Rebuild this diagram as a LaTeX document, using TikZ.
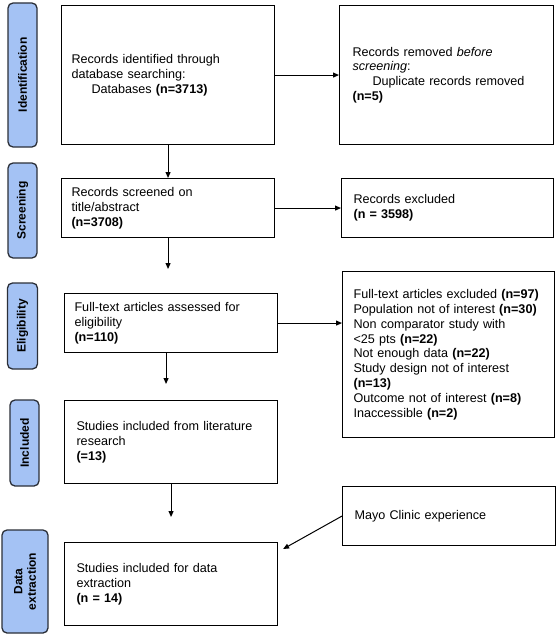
\documentclass[tikz,border=0pt]{standalone}
\usepackage{fontspec}
\setmainfont{Liberation Sans}
\usetikzlibrary{arrows.meta}
\definecolor{stagefill}{HTML}{A4C2F4}
\definecolor{stageline}{HTML}{2B2F38}

\begin{document}
\begin{tikzpicture}[x = 1pt, y = -1pt, line width = 1pt,
                        >={Triangle[length = 6pt, width = 5pt]},
                        box/.style = {draw, line width = 1.1pt, anchor = north west, align = left,
                                      inner xsep = 10pt, inner ysep = 0pt,
                                      font = \fontsize{12.6}{14.8}\selectfont},
                        stage/.style = {draw = stageline, line width = 1.3pt, rounded corners = 5pt,
                                        fill = stagefill, rotate = 90, align = center, inner sep = 0pt,
                                        font = \fontsize{12}{13.5}\selectfont\bfseries}]
    \useasboundingbox (0, 0) rectangle (557, 634);
    % stages on the left
    \node [stage, minimum width = 144pt, minimum height = 29pt] (sIdent) at (22.5, 75) {Identification};
    \node [stage, minimum width = 95pt, minimum height = 29pt] (sScreen) at (22.5, 210.5) {Screening};
    \node [stage, minimum width = 86pt, minimum height = 30pt] (sElig) at (22.5, 326) {Eligibility};
    \node [stage, minimum width = 86pt, minimum height = 29pt] (sIncl) at (24.5, 443) {Included};
    \node [stage, minimum width = 103pt, minimum height = 46pt] (sData) at (25, 581.5) {Data\\extraction};
    % main column
    \node [box, text width = 193pt, minimum height = 139pt] (ident) at (61, 5)
        {Records identified through\\database searching:\\\hspace*{20pt}Databases \textbf{(n=3713)}};
    \node [box, text width = 193pt, minimum height = 59pt] (screen) at (61, 178)
        {Records screened on\\title/abstract\\\textbf{(n=3708)}};
    \node [box, text width = 193pt, minimum height = 59pt] (elig) at (64, 293)
        {Full-text articles assessed for\\eligibility\\\textbf{(n=110)}};
    \node [box, inner xsep = 12pt, text width = 189pt, minimum height = 83pt] (incl) at (64, 400)
        {Studies included from literature\\research\\\textbf{(=13)}};
    \node [box, inner xsep = 12pt, text width = 189pt, minimum height = 83pt] (data) at (64, 542)
        {Studies included for data\\extraction\\\textbf{(n = 14)}};
    % right column
    \node [box, inner xsep = 13pt, text width = 188pt, minimum height = 139pt] (removed) at (339, 5)
        {Records removed \textit{before}\\\textit{screening}:\\\hspace*{20pt}Duplicate records removed\\\textbf{(n=5)}};
    \node [box, inner xsep = 12pt, text width = 188pt, minimum height = 59pt] (excl1) at (341, 178)
        {Records excluded\\\textbf{(n = 3598)}};
    \node [box, inner xsep = 11pt, text width = 190pt, minimum height = 166pt] (excl2) at (342, 271)
        {Full-text articles excluded \textbf{(n=97)}\\Population not of interest \textbf{(n=30)}\\Non comparator study with\\<25 pts \textbf{(n=22)}\\Not enough data \textbf{(n=22)}\\Study design not of interest\\\textbf{(n=13)}\\Outcome not of interest \textbf{(n=8)}\\Inaccessible \textbf{(n=2)}};
    \node [box, inner xsep = 12pt, text width = 189pt, minimum height = 59pt] (mayo) at (342, 486)
        {Mayo Clinic experience};
    % connectors
    \draw [->] (ident.east) -- (removed.west);
    \draw [->] (screen.east) -- (excl1.west);
    \draw [->] (elig.east) -- (elig.east -| excl2.west);
    \draw [->] (ident.south) -- (screen.north);
    \draw [->, shorten > = 24pt] (screen.south) -- (screen.south |- elig.north);
    \draw [->, shorten > = 16pt] ([xshift = -5pt]elig.south) -- ([xshift = -5pt]elig.south |- incl.north);
    \draw [->, shorten > = 25pt] (incl.south) -- (incl.south |- data.north);
    \draw [->] (mayo.west) -- ([shift = {(5pt, -7pt)}]data.north east);
  \end{tikzpicture}
\end{document}
